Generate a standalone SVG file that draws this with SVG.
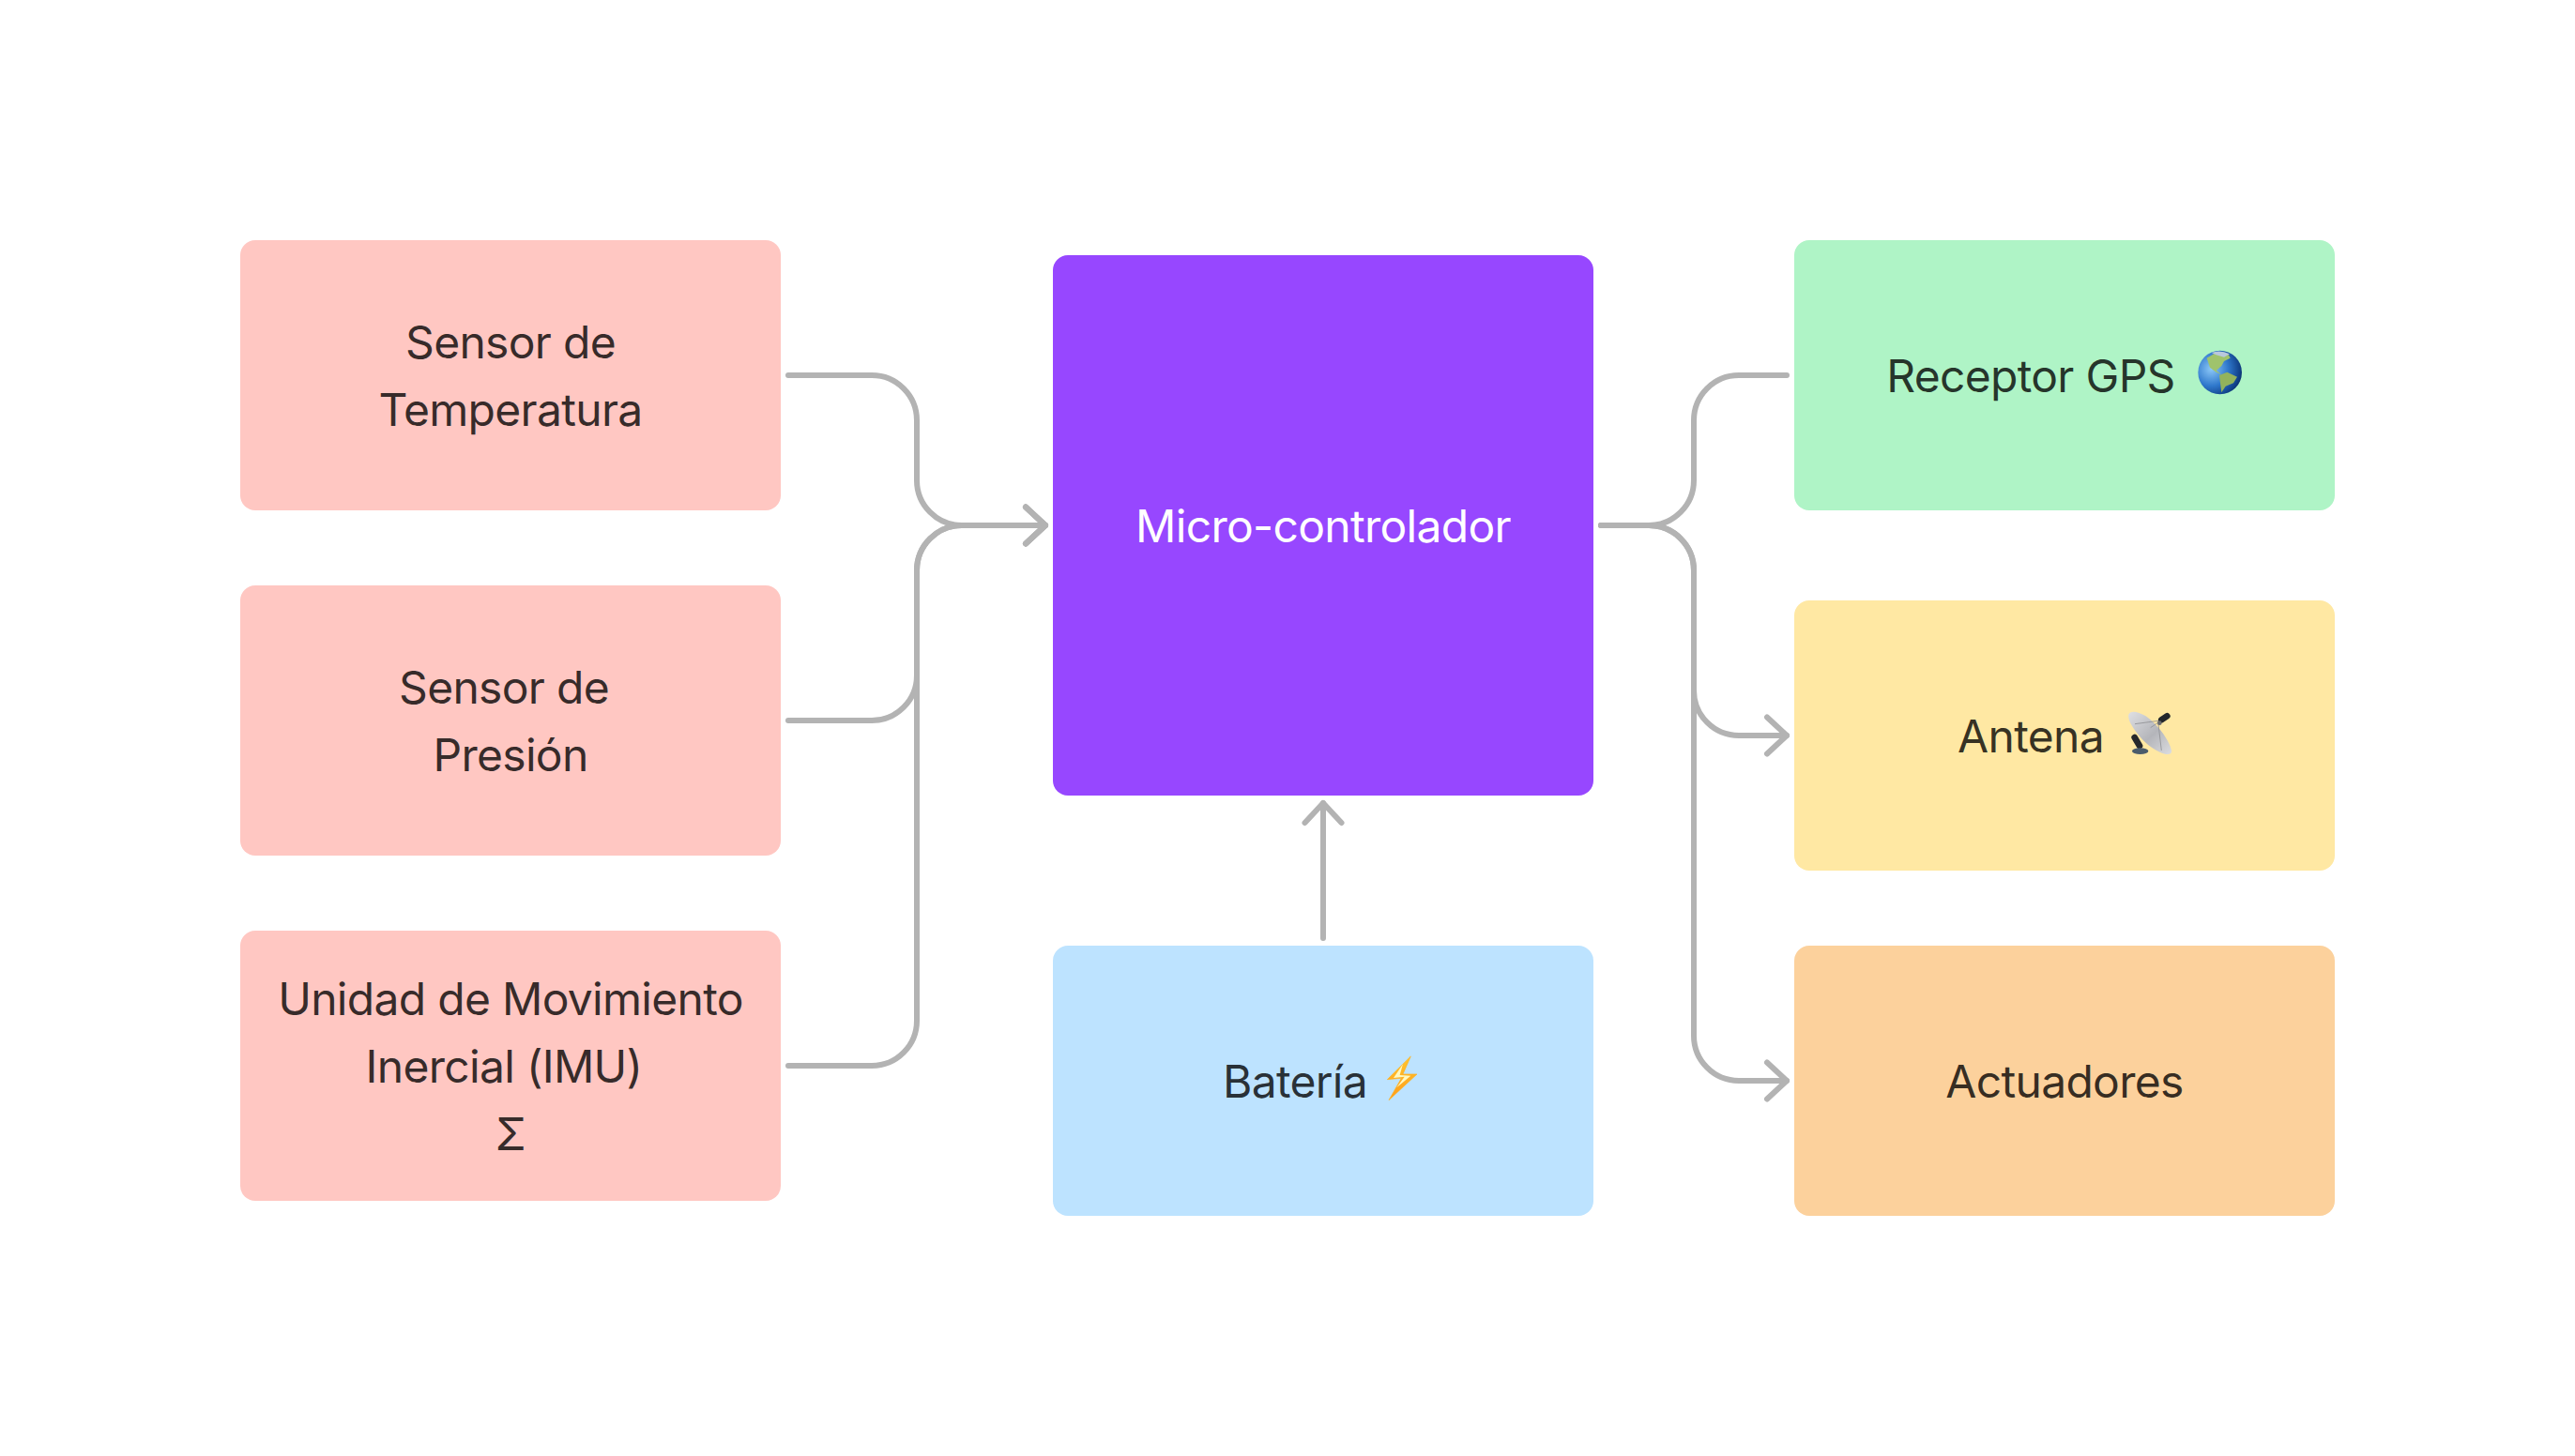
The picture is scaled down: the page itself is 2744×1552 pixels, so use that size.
<svg xmlns="http://www.w3.org/2000/svg" width="2744" height="1552" viewBox="0 0 2744 1552">
<style>
.box{rx:16px;ry:16px}
.w{width:576px;height:288px}
.t{font-family:Inter,"Liberation Sans",sans-serif;font-size:48px;font-weight:420;letter-spacing:-.7px;text-anchor:middle;fill:#000;fill-opacity:.8}
.c{fill:none;stroke:#b3b3b3;stroke-width:6;stroke-linecap:round;stroke-linejoin:round}
</style>
<defs>
<marker id="arrow" markerUnits="userSpaceOnUse" markerWidth="40" markerHeight="60" refX="30" refY="30" orient="auto" overflow="visible"><path class="c" d="M9 10.5L30 30L9 49.5"/></marker>
<radialGradient id="globe" cx=".3" cy=".42" r=".78"><stop offset="0" stop-color="#8cc8f7"/><stop offset=".5" stop-color="#2f78cc"/><stop offset=".85" stop-color="#103f86"/><stop offset="1" stop-color="#0a2550"/></radialGradient>
<linearGradient id="dish" x1="0" y1="0" x2="1" y2="1"><stop offset="0" stop-color="#dfe0e3"/><stop offset=".55" stop-color="#b4b5ba"/><stop offset="1" stop-color="#dcdde0"/></linearGradient>
<linearGradient id="bolt" x1="0" y1="0" x2="0" y2="1"><stop offset="0" stop-color="#ffc52e"/><stop offset="1" stop-color="#ff9c1a"/></linearGradient>
</defs>
<rect width="2744" height="1552" fill="#fff"/>
<g id="connectors">
<path class="c" marker-end="url(#arrow)" d="M840 400H929A48 48 0 0 1 977 448V512A48 48 0 0 0 1025 560H1114"/>
<path class="c" marker-end="url(#arrow)" d="M840 768H929A48 48 0 0 0 977 720V608A48 48 0 0 1 1025 560H1114"/>
<path class="c" marker-end="url(#arrow)" d="M840 1136H929A48 48 0 0 0 977 1088V608A48 48 0 0 1 1025 560H1114"/>
<path class="c" d="M1706 560H1757A48 48 0 0 0 1805 512V448A48 48 0 0 1 1853 400H1904"/>
<path class="c" marker-end="url(#arrow)" d="M1706 560H1757A48 48 0 0 1 1805 608V736A48 48 0 0 0 1853 784H1904"/>
<path class="c" marker-end="url(#arrow)" d="M1706 560H1757A48 48 0 0 1 1805 608V1104A48 48 0 0 0 1853 1152H1904"/>
<path class="c" marker-end="url(#arrow)" d="M1410 1000V856"/>
</g>
<g id="sensor-temperatura"><rect class="box w" x="256" y="256" fill="#ffc7c2"/><text class="t" x="544" y="381.5">Sensor de</text><text class="t" x="544" y="453.5">Temperatura</text></g>
<g id="sensor-presion"><rect class="box w" x="256" y="624" fill="#ffc7c2"/><text class="t" x="537" y="749.5">Sensor de</text><text class="t" x="544" y="821.5">Presión</text></g>
<g id="imu"><rect class="box w" x="256" y="992" fill="#ffc7c2"/><text class="t" x="544" y="1081.5">Unidad de Movimiento</text><text class="t" x="537" y="1153.5">Inercial (IMU)</text><text class="t" x="544" y="1225.5">Σ</text></g>
<g id="microcontrolador"><rect class="box" x="1122" y="272" width="576" height="576" fill="#9747ff"/><text class="t" x="1410" y="577.5" style="fill:#fff;fill-opacity:1">Micro-controlador</text></g>
<g id="bateria"><rect class="box w" x="1122" y="1008" fill="#bde3ff"/><text class="t" x="1380" y="1169.5">Batería</text>
<g transform="translate(1450 1100) scale(.3333)"><path d="M160 78L85 152L130 148L90 218L180 135L135 135Z" fill="url(#bolt)" stroke="#ffb020" stroke-width="2" stroke-linejoin="round"/><path d="M135 103L105 147L140 143L115 178L160 140L125 138Z" fill="#fff8c0"/></g></g>
<g id="receptor-gps"><rect class="box w" x="1912" y="256" fill="#aff4c6"/><text class="t" x="2164" y="417.5">Receptor GPS</text>
<g transform="translate(2280 340) scale(.3333)"><circle cx="257" cy="171" r="70" fill="url(#globe)"/>
<path d="M215 125L240 110L285 115L290 125L270 135L262 150L245 165L262 178L245 170L225 155Z" fill="#9fc36c"/>
<path d="M255 180L280 170L312 185L300 205L275 215L262 235L258 205Z" fill="#93b35c"/>
<path d="M230 108Q257 97 288 112L270 122L245 115Z" fill="#b9c8dc"/></g></g>
<g id="antena"><rect class="box w" x="1912" y="640" fill="#ffe8a3"/><text class="t" x="2164" y="801.5">Antena</text>
<g transform="translate(2240 730) scale(.3333)">
<path d="M104 168L120 195" stroke="#26282b" stroke-width="20" stroke-linecap="round" fill="none"/>
<ellipse cx="122" cy="212" rx="26" ry="10" fill="#4b5c6c"/>
<path d="M85 95C90 80 115 85 140 100C175 125 215 175 222 210C225 225 205 225 185 215C150 200 115 165 95 130C88 118 83 105 85 95Z" fill="url(#dish)"/>
<path d="M105 125L180 115M155 137L180 120M180 125L190 210" fill="none" stroke="#8f9094" stroke-width="2.5"/>
<path d="M190 112L208 100" stroke="#23262a" stroke-width="20" stroke-linecap="round" fill="none"/>
<circle cx="184" cy="122" r="7" fill="#6a6b6e"/></g></g>
<g id="actuadores"><rect class="box w" x="1912" y="1008" fill="#fcd19c"/><text class="t" x="2200" y="1169.5">Actuadores</text></g>
</svg>
